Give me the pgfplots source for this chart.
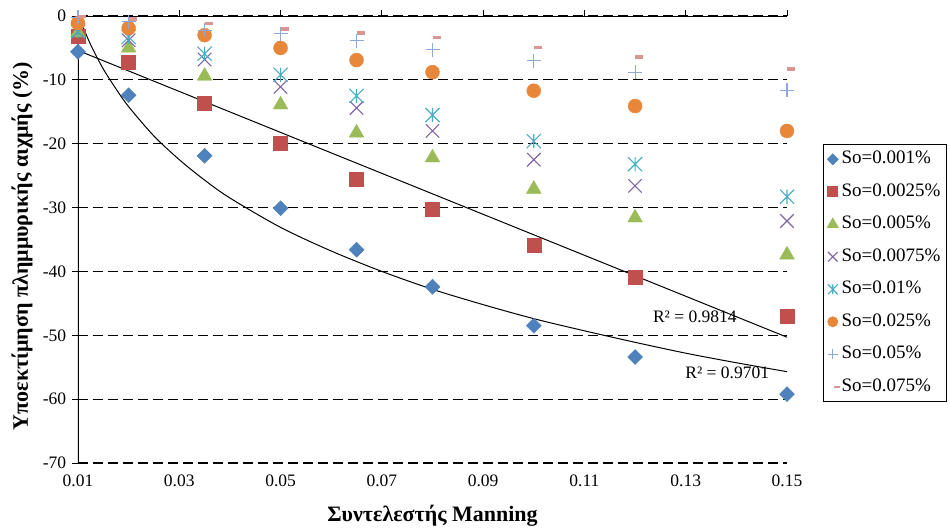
\documentclass[border=0pt]{standalone}
\usepackage{fontspec}
\setmainfont{Liberation Serif}
\usepackage{pgfplots}
\pgfplotsset{compat=1.18}
\usepackage{pgfplotstable}
\definecolor{cA}{HTML}{4F81BD}
\definecolor{cB}{HTML}{C0504D}
\definecolor{cC}{HTML}{9BBB59}
\definecolor{cD}{HTML}{8064A2}
\definecolor{cE}{HTML}{4BACC6}
\definecolor{cF}{HTML}{E8873A}
\definecolor{cG}{HTML}{8EA8D8}
\definecolor{cH}{HTML}{D99694}
\pgfdeclareplotmark{xstar}{%
 \pgfpathmoveto{\pgfqpoint{-.7071\pgfplotmarksize}{-.7071\pgfplotmarksize}}%
 \pgfpathlineto{\pgfqpoint{.7071\pgfplotmarksize}{.7071\pgfplotmarksize}}%
 \pgfpathmoveto{\pgfqpoint{-.7071\pgfplotmarksize}{.7071\pgfplotmarksize}}%
 \pgfpathlineto{\pgfqpoint{.7071\pgfplotmarksize}{-.7071\pgfplotmarksize}}%
 \pgfpathmoveto{\pgfqpoint{0pt}{-.7071\pgfplotmarksize}}%
 \pgfpathlineto{\pgfqpoint{0pt}{.7071\pgfplotmarksize}}%
 \pgfusepathqstroke}
\pgfdeclareplotmark{dashrect}{%
 \pgfpathrectangle{\pgfqpoint{-0.5\pgfplotmarksize}{-0.22\pgfplotmarksize}}{\pgfqpoint{\pgfplotmarksize}{0.44\pgfplotmarksize}}%
 \pgfusepathqfill}
\pgfplotstableread{
x s1 s2 s3 s4 s5 s6 s7 s8
0.01 -5.6 -3.2 -2.6 -2.5 -2.4 -1.1 -0.2 -0.1
0.02 -12.4 -7.2 -5.0 -3.8 -3.3 -1.9 -0.9 -0.5
0.035 -21.9 -13.6 -9.4 -6.8 -5.9 -3.0 -2.2 -1.2
0.05 -30.1 -19.9 -13.9 -11.1 -9.2 -5.0 -2.8 -2.0
0.065 -36.6 -25.5 -18.3 -14.4 -12.5 -6.9 -3.9 -2.7
0.08 -42.4 -30.2 -22.2 -18.0 -15.5 -8.8 -5.3 -3.4
0.10 -48.5 -35.9 -27.1 -22.5 -19.6 -11.7 -7.0 -4.9
0.12 -53.4 -40.9 -31.6 -26.6 -23.2 -14.1 -8.8 -6.4
0.15 -59.2 -47.0 -37.4 -32.1 -28.3 -18.0 -11.6 -8.3
}\data
\pgfplotstableread{
x y
0.0101 0.0
0.0125 -4.5
0.015 -8.3
0.0175 -11.4
0.02 -14.2
0.025 -18.8
0.03 -22.5
0.035 -25.7
0.04 -28.5
0.05 -33.1
0.06 -36.8
0.07 -40.0
0.08 -42.8
0.09 -45.2
0.10 -47.4
0.11 -49.3
0.12 -51.1
0.13 -52.8
0.14 -54.3
0.15 -55.7
}\logfit
\begin{document}
\fontsize{17}{20}\selectfont
\begin{tikzpicture}
\path[use as bounding box] (-78pt,-65pt) rectangle (872pt,463pt);
\begin{axis}[
 scale only axis, width=709pt, height=447pt,
 xmin=0.01, xmax=0.15, ymin=-70, ymax=0,
 xtick={0.01,0.03,0.05,0.07,0.09,0.11,0.13,0.15},
 xticklabels={0.01,0.03,0.05,0.07,0.09,0.11,0.13,0.15},
 ytick={-70,-60,-50,-40,-30,-20,-10,0},
 /pgf/number format/assume math mode=true,
 ticklabel style={font=\fontsize{17.5}{20}\selectfont},
 axis line style={draw=none},
 xtick pos=upper, xticklabel pos=lower,
 ytick pos=left,
 tick align=outside,
 major tick length=6pt,
 tick style={black, line width=1pt},
 ymajorgrids,
 major grid style={black, line width=1.2pt, dash pattern=on 10pt off 5pt},
 clip=true,
 xlabel={\bfseries Συντελεστής Manning},
 ylabel={\bfseries Υποεκτίμηση πλημμυρικής αιχμής (\%)},
 xlabel style={at={(axis description cs:0.5,-0.1186)}, anchor=center, font=\fontsize{22}{26}\selectfont},
 ylabel style={at={(axis description cs:-0.079,0.485)}, anchor=center, font=\fontsize{22}{26}\selectfont},
 legend style={at={(1.0508,0.425)}, anchor=west, draw=black, line width=1pt,
   font=\fontsize{19}{22}\selectfont, row sep=11.5pt, inner sep=4pt,
   nodes={inner sep=2pt, text height=13pt, text depth=4pt}},
 legend cell align=left,
 legend image post style={every mark/.append style={scale=0.7}},
]
\addplot[only marks, mark=square*, mark size=5.3pt, mark options={rotate=45, fill=cA, draw=cA}] table[x=x,y=s1] {\data};
\addlegendentry{So=0.001\%}
\addplot[only marks, mark=square*, mark size=7pt, mark options={fill=cB, draw=cB}] table[x=x,y=s2] {\data};
\addlegendentry{So=0.0025\%}
\addplot[only marks, mark=triangle*, mark size=8.5pt, mark options={fill=cC, draw=cC}] table[x=x,y=s3] {\data};
\addlegendentry{So=0.005\%}
\addplot[only marks, mark=x, mark size=9.5pt, mark options={draw=cD, line width=1.1pt}] table[x=x,y=s4] {\data};
\addlegendentry{So=0.0075\%}
\addplot[only marks, mark=xstar, mark size=10pt, mark options={draw=cE, line width=1.1pt}] table[x=x,y=s5] {\data};
\addlegendentry{So=0.01\%}
\addplot[only marks, mark=*, mark size=7pt, mark options={fill=cF, draw=cF}] table[x=x,y=s6] {\data};
\addlegendentry{So=0.025\%}
\addplot[only marks, mark=+, mark size=7pt, mark options={draw=cG, line width=1.1pt}] table[x=x,y=s7] {\data};
\addlegendentry{So=0.05\%}
\addplot[only marks, mark=dashrect, mark size=8pt, mark options={fill=cH, draw=none, xshift=4pt}] table[x=x,y=s8] {\data};
\addlegendentry{So=0.075\%}
\addplot[black, line width=1pt, forget plot] coordinates {(0.01,-5.4) (0.15,-50.3)};
\addplot[black, line width=1pt, smooth, forget plot] table[x=x,y=y] {\logfit};
\node[font=\fontsize{17.5}{20}\selectfont] at (axis cs:0.1318,-47.1) {R² = 0.9814};
\node[font=\fontsize{17.5}{20}\selectfont] at (axis cs:0.1382,-55.9) {R² = 0.9701};
\draw[black, line width=1.2pt] (rel axis cs:0,0) -- (rel axis cs:0,1) -- (rel axis cs:1,1);
\end{axis}
\end{tikzpicture}
\end{document}
